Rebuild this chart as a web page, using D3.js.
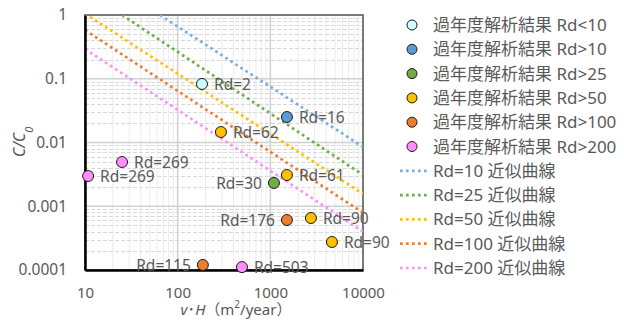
<!DOCTYPE html>
<html>
<head>
<meta charset="utf-8">
<script src="https://cdn.jsdelivr.net/npm/d3@7"></script>
<style>
  body { margin: 0; background: #fff; }
  text { font-family: "Noto Sans", "Noto Sans CJK JP", sans-serif; fill: #595959; }
</style>
</head>
<body>
<div id="chart"></div>
<script>
// tick values
const xTicks = [10, 100, 1000, 10000];
const yTicks = [1, 0.1, 0.01, 0.001, 0.0001];

// marker series
const seriesNames = ["過年度解析結果 Rd<10", "過年度解析結果 Rd>10", "過年度解析結果 Rd>25",
  "過年度解析結果 Rd>50", "過年度解析結果 Rd>100", "過年度解析結果 Rd>200"];
const seriesColors = ["#ccffff", "#5b9bd5", "#70ad47", "#ffc000", "#ed7d31", "#ff8fff"];

// measured points: v*H, C/C0, series index, label
const pointVH = [183, 1510, 293, 25.1, 10.8, 1094, 1510, 1510, 2742, 4620, 187, 494];
const pointC = [0.0828, 0.0251, 0.0146, 0.00494, 0.00298, 0.00232, 0.00309, 0.000608, 0.000654, 0.000275, 0.00012, 0.000111];
const pointSeries = [0, 1, 3, 5, 5, 2, 3, 4, 3, 3, 4, 5];
const pointLabel = ["Rd=2", "Rd=16", "Rd=62", "Rd=269", "Rd=269", "Rd=30", "Rd=61", "Rd=176", "Rd=90", "Rd=90", "Rd=115", "Rd=503"];
const labelOnLeft = [5, 7, 10];

// fitted curves (start / end points)
const fitNames = ["Rd=10 近似曲線", "Rd=25 近似曲線", "Rd=50 近似曲線", "Rd=100 近似曲線", "Rd=200 近似曲線"];
const fitColors = ["#7aaee0", "#70ad47", "#ffc000", "#ed7d31", "#ff8fff"];
const fitStartVH = [64.4, 25.1, 10, 10, 10];
const fitStartC = [1, 1, 1.05, 0.582, 0.293];
const fitEndVH = [10000, 10000, 10000, 10000, 10000];
const fitEndC = [0.0085, 0.0031, 0.00156, 0.00079, 0.0004];

const width = 624, height = 325;
const plot = {left: 85, right: 363, top: 15, bottom: 270};

const svg = d3.select("#chart").append("svg")
  .attr("width", width)
  .attr("height", height);

const x = d3.scaleLog().domain([10, 10000]).range([plot.left, plot.right]);
const y = d3.scaleLog().domain([0.0001, 1]).range([plot.bottom, plot.top]);

// minor grid values
const minorX = [], minorY = [];
for (let e = 1; e < 4; e++) for (let m = 2; m < 10; m++) minorX.push(m * Math.pow(10, e));
for (let e = -4; e < 0; e++) for (let m = 2; m < 10; m++) minorY.push(+(m * Math.pow(10, e)).toPrecision(3));

const grid = svg.append("g");
grid.selectAll(".mx").data(minorX).enter().append("line")
  .attr("x1", d => x(d)).attr("x2", d => x(d))
  .attr("y1", plot.top).attr("y2", plot.bottom)
  .style("stroke", "#ececec").style("stroke-width", 1);
grid.selectAll(".my").data(minorY).enter().append("line")
  .attr("x1", plot.left).attr("x2", plot.right)
  .attr("y1", d => Math.round(y(d)) + 0.5).attr("y2", d => Math.round(y(d)) + 0.5)
  .style("stroke", "#d9d9d9").style("stroke-width", 1)
  .style("stroke-dasharray", "4,2");
grid.selectAll(".Mx").data(xTicks).enter().append("line")
  .attr("x1", d => x(d)).attr("x2", d => x(d))
  .attr("y1", plot.top).attr("y2", plot.bottom)
  .style("stroke", "#d0d0d0").style("stroke-width", 1.5);
grid.selectAll(".My").data(yTicks).enter().append("line")
  .attr("x1", plot.left).attr("x2", plot.right)
  .attr("y1", d => y(d)).attr("y2", d => y(d))
  .style("stroke", "#d0d0d0").style("stroke-width", 1.5);

// frame
svg.append("rect")
  .attr("x", plot.left).attr("y", plot.top)
  .attr("width", plot.right - plot.left).attr("height", plot.bottom - plot.top)
  .style("fill", "none").style("stroke", "#595959").style("stroke-width", 1.5);

// fitted lines
svg.append("clipPath").attr("id", "clip").append("rect")
  .attr("x", plot.left).attr("y", plot.top)
  .attr("width", plot.right - plot.left).attr("height", plot.bottom - plot.top);
const line = d3.line().x(d => x(d[0])).y(d => y(d[1]));
svg.append("g").attr("clip-path", "url(#clip)")
  .selectAll("path").data(fitNames).enter().append("path")
  .attr("d", (d, i) => line([[fitStartVH[i], fitStartC[i]], [fitEndVH[i], fitEndC[i]]]))
  .style("fill", "none")
  .style("stroke", (d, i) => fitColors[i])
  .style("stroke-width", 2.7)
  .style("stroke-dasharray", "2.7,3.3");

// axes
const yAxis = d3.axisLeft(y).tickValues(yTicks).tickSize(0).tickPadding(18)
  .tickFormat(d => String(d));
svg.append("g").attr("transform", `translate(${plot.left},0)`).call(yAxis)
  .call(g => g.select(".domain").style("stroke", "#000").style("stroke-width", 2.5))
  .selectAll("text").style("font-size", "15.5px").style("fill", "#595959")
  .attr("font-family", null);
const xAxis = d3.axisBottom(x).tickValues(xTicks).tickSize(0).tickPadding(17)
  .tickFormat(d => String(d));
svg.append("g").attr("transform", `translate(0,${plot.bottom})`).call(xAxis)
  .call(g => g.select(".domain").style("stroke", "#000").style("stroke-width", 2.5))
  .selectAll("text").style("font-size", "15px").style("fill", "#595959")
  .attr("font-family", null);

// axis titles
const yt = svg.append("text")
  .attr("transform", "translate(25,142) rotate(-90)")
  .style("text-anchor", "middle").style("font-size", "16px");
yt.append("tspan").style("font-style", "italic").text("C/C");
yt.append("tspan").style("font-style", "italic").style("font-size", "11px")
  .attr("baseline-shift", "sub").text("0");

const xt = svg.append("text")
  .attr("x", 236).attr("y", 315)
  .style("text-anchor", "middle").style("font-size", "15px");
xt.append("tspan").style("font-style", "italic").text("v");
xt.append("tspan").text("･");
xt.append("tspan").style("font-style", "italic").text("H");
xt.append("tspan").text("（m");
xt.append("tspan").style("font-size", "10px").attr("baseline-shift", "super").text("2");
xt.append("tspan").text("/year）");

// points
const pts = svg.append("g");
pts.selectAll("circle").data(pointVH).enter().append("circle")
  .attr("cx", (d, i) => x(d))
  .attr("cy", (d, i) => y(pointC[i]))
  .attr("r", 5.5)
  .style("fill", (d, i) => seriesColors[pointSeries[i]])
  .style("stroke", "#1a1a1a").style("stroke-width", 1);
pts.selectAll("text").data(pointLabel).enter().append("text")
  .attr("x", (d, i) => x(pointVH[i]) + (labelOnLeft.includes(i) ? -12 : 12))
  .attr("y", (d, i) => y(pointC[i]) + 6)
  .style("text-anchor", (d, i) => labelOnLeft.includes(i) ? "end" : "start")
  .style("font-size", "15.5px")
  .text(d => d);

// legend
const legend = svg.append("g");
const rowH = 24.3;
seriesNames.forEach(function(name, i) {
  const ly = 25 + i * rowH;
  legend.append("circle").attr("cx", 412).attr("cy", ly).attr("r", 5)
    .style("fill", seriesColors[i]).style("stroke", "#1a1a1a").style("stroke-width", 1);
  legend.append("text").attr("x", 433).attr("y", ly + 6)
    .style("font-size", "17px").text(name);
});
fitNames.forEach(function(name, i) {
  const ly = 25 + (i + 6) * rowH;
  legend.append("line").attr("x1", 400).attr("x2", 430).attr("y1", ly).attr("y2", ly)
    .style("stroke", fitColors[i]).style("stroke-width", 2.7)
    .style("stroke-dasharray", "2.7,3.3");
  legend.append("text").attr("x", 433).attr("y", ly + 6)
    .style("font-size", "17px").text(name);
});
</script>
</body>
</html>
